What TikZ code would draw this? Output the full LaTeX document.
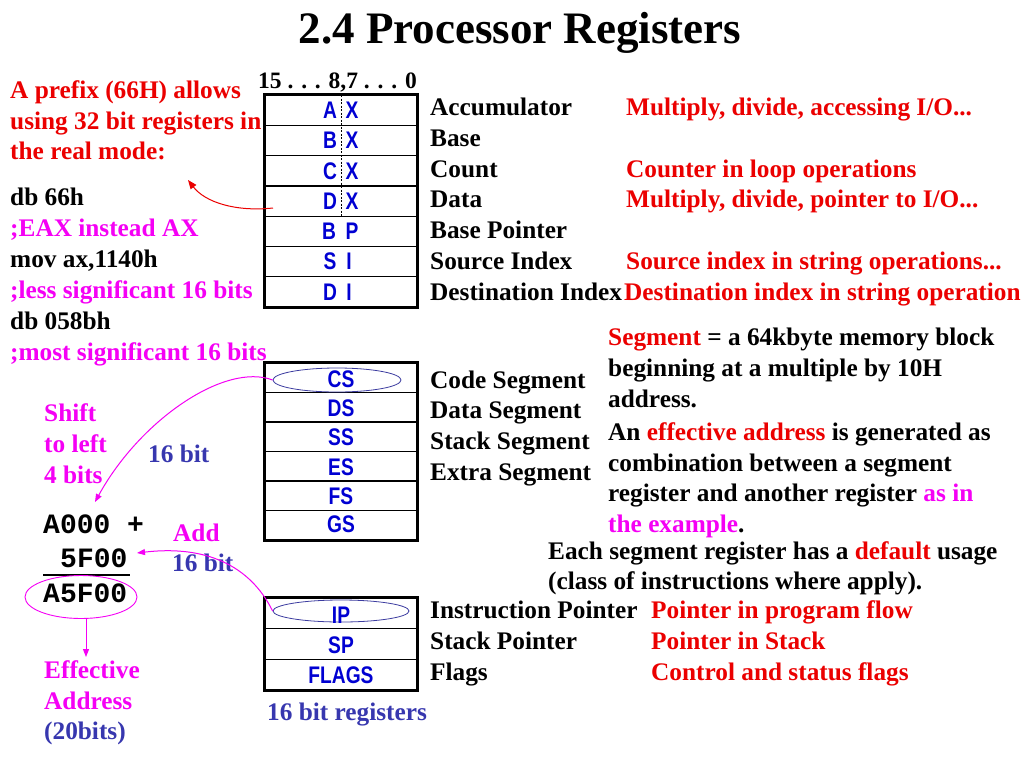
\documentclass[tikz,border=0pt]{standalone}
\usepackage{fontspec}
\setmainfont{Liberation Serif}
\newfontfamily\regfont[FakeStretch=0.8]{Liberation Sans}
\newfontfamily\codefont{Liberation Mono}
\usetikzlibrary{arrows.meta,shapes.geometric}
\definecolor{cred}{RGB}{235,0,0}
\definecolor{cmag}{RGB}{245,0,245}
\definecolor{cblue}{RGB}{0,0,210}
\definecolor{cind}{RGB}{55,55,175}
\definecolor{cell}{RGB}{60,60,160}
\begin{document}
\begin{tikzpicture}[x=1pt,y=-1pt,
 txt/.style={anchor=base west,inner sep=0pt,font=\fontsize{25.3}{30}\selectfont\bfseries},
 row/.style={draw,line width=1.3pt,minimum width=152pt,inner sep=0pt},
 reg/.style={inner sep=0pt,text=cblue,font=\regfont\bfseries\fontsize{24}{26}\selectfont},
 code/.style={anchor=base west,inner sep=0pt,font=\codefont\bfseries\fontsize{28}{30}\selectfont},
 outerbox/.style={draw,line width=3pt},
 ell/.style={ellipse,draw=cell,line width=0.8pt,inner sep=0pt},
 marrow/.style={cmag,line width=1pt,-{Triangle[width=6pt,length=8pt]}},
 rarrow/.style={cred,line width=1pt,-{Triangle[width=7pt,length=9pt]}}]
\useasboundingbox (0,0) rectangle (1024,768);
\fill[white] (0,0) rectangle (1024,768);

% title
\node[inner sep=0pt,anchor=base,font=\fontsize{45}{50}\selectfont\bfseries] (title) at (520,44) {2.4 Processor Registers};

% left text
\node[txt,text=cred] (p1) at (10,98) {A prefix (66H) allows};
\node[txt,text=cred] (p2) at (10,129) {using 32 bit registers in};
\node[txt,text=cred] (p3) at (10,159) {the real mode:};
\node[txt] (c1) at (10,205) {db 66h};
\node[txt,text=cmag] (c2) at (10,236) {;EAX instead AX};
\node[txt] (c3) at (10,267) {mov ax,1140h};
\node[txt,text=cmag] (c4) at (10,298) {;less significant 16 bits};
\node[txt] (c5) at (10,329) {db 058bh};
\node[txt,text=cmag] (c6) at (10,360) {;most significant 16 bits};

% header
\node[anchor=base west,inner sep=0pt,font=\fontsize{23.5}{26}\selectfont\bfseries] (hdr) at (258,88) {15 . . . 8,7 . . . 0};

% general registers
\node[row,minimum height=30.3pt] (r1) at (341,110.15) {};
\node[row,minimum height=30.3pt] (r2) at (341,140.45) {};
\node[row,minimum height=30.3pt] (r3) at (341,170.75) {};
\node[row,minimum height=30.3pt] (r4) at (341,201.05) {};
\node[row,minimum height=30.3pt] (r5) at (341,231.35) {};
\node[row,minimum height=30.3pt] (r6) at (341,261.65) {};
\node[row,minimum height=30.3pt] (r7) at (341,291.95) {};
\draw[outerbox] (r1.north west) rectangle (r7.south east);
\coordinate (dtop) at (341,95);
\coordinate (dbot) at (341,216);
\draw[line width=0.7pt,dash pattern=on 2pt off 1.5pt] (dtop) -- (dbot);
\node[reg] (la) at (330,110.15) {A};
\node[reg] (lax) at (352,110.15) {X};
\node[reg] (lb) at (330,140.45) {B};
\node[reg] (lbx) at (352,140.45) {X};
\node[reg] (lc) at (330,170.75) {C};
\node[reg] (lcx) at (352,170.75) {X};
\node[reg] (ld) at (330,201.05) {D};
\node[reg] (ldx) at (352,201.05) {X};
\node[reg] (lbp) at (329,231.35) {B};
\node[reg] (lbpp) at (352,231.35) {P};
\node[reg] (lsi) at (330,261.65) {S};
\node[reg] (lsii) at (349,261.65) {I};
\node[reg] (ldi) at (330,291.95) {D};
\node[reg] (ldii) at (349,291.95) {I};

% segment registers
\node[row,minimum height=29.5pt] (s1) at (341,377.75) {};
\node[row,minimum height=29.5pt] (s2) at (341,407.25) {};
\node[row,minimum height=29.5pt] (s3) at (341,436.75) {};
\node[row,minimum height=29.5pt] (s4) at (341,466.25) {};
\node[row,minimum height=29.5pt] (s5) at (341,495.75) {};
\node[row,minimum height=29.5pt] (s6) at (341,525.25) {};
\draw[outerbox] (s1.north west) rectangle (s6.south east);
\node[ell,minimum width=128pt,minimum height=24pt] (csell) at (337,380) {};
\node[reg] (lcs) at (341,379) {CS};
\node[reg] (lds) at (341,408) {DS};
\node[reg] (lss) at (341,437.5) {SS};
\node[reg] (les) at (341,467) {ES};
\node[reg] (lfs) at (341,496.5) {FS};
\node[reg] (lgs) at (341,524) {GS};

% pointer registers
\node[row,minimum height=30.67pt] (q1) at (341,613.3) {};
\node[row,minimum height=30.67pt] (q2) at (341,644) {};
\node[row,minimum height=30.67pt] (q3) at (341,674.7) {};
\draw[outerbox] (q1.north west) rectangle (q3.south east);
\node[ell,minimum width=136pt,minimum height=22pt] (ipell) at (341,611) {};
\node[reg] (lip) at (341,615) {IP};
\node[reg] (lsp) at (341,645) {SP};
\node[reg] (lfl) at (341,675.5) {FLAGS};
\node[txt,text=cind] (bits16) at (267,720) {16 bit registers};

% right column: general registers
\node[txt] (n1) at (430,115) {Accumulator};
\node[txt] (n2) at (430,146) {Base};
\node[txt] (n3) at (430,177) {Count};
\node[txt] (n4) at (430,207) {Data};
\node[txt] (n5) at (430,238) {Base Pointer};
\node[txt] (n6) at (430,269) {Source Index};
\node[txt] (n7) at (430,300) {Destination Index};
\node[txt,text=cred] (u1) at (626,115) {Multiply, divide, accessing I/O...};
\node[txt,text=cred] (u3) at (626,177) {Counter in loop operations};
\node[txt,text=cred] (u4) at (626,207) {Multiply, divide, pointer to I/O...};
\node[txt,text=cred] (u6) at (626,269) {Source index in string operations...};
\node[txt,text=cred] (u7) at (624,300) {Destination index in string operation};

% segment names
\node[txt] (g1) at (430,388) {Code Segment};
\node[txt] (g2) at (430,418) {Data Segment};
\node[txt] (g3) at (430,449) {Stack Segment};
\node[txt] (g4) at (430,480) {Extra Segment};

% paragraph
\node[txt] (t1) at (608,345) {\textcolor{cred}{Segment} = a 64kbyte memory block};
\node[txt] (t2) at (608,376) {beginning at a multiple by 10H};
\node[txt] (t3) at (608,407) {address.};
\node[txt] (t4) at (608,440) {An \textcolor{cred}{effective address} is generated as};
\node[txt] (t5) at (608,471) {combination between a segment};
\node[txt] (t6) at (608,501) {register and another register \textcolor{cmag}{as in}};
\node[txt] (t7) at (608,532) {\textcolor{cmag}{the example}.};
\node[txt] (e1) at (548,559) {Each segment register has a \textcolor{cred}{default} usage};
\node[txt] (e2) at (548,589) {(class of instructions where apply).};

% pointer names
\node[txt] (i1) at (430,618) {Instruction Pointer};
\node[txt] (i2) at (430,649) {Stack Pointer};
\node[txt] (i3) at (430,680) {Flags};
\node[txt,text=cred] (j1) at (651,618) {Pointer in program flow};
\node[txt,text=cred] (j2) at (651,649) {Pointer in Stack};
\node[txt,text=cred] (j3) at (651,680) {Control and status flags};

% example computation
\node[txt,text=cmag] (sh1) at (44,421) {Shift};
\node[txt,text=cmag] (sh2) at (44,452) {to left};
\node[txt,text=cmag] (sh3) at (44,483) {4 bits};
\node[txt,text=cind] (b16a) at (148,462) {16 bit};
\node[txt,text=cmag] (add) at (173,541) {Add};
\node[txt,text=cind] (b16b) at (172,571) {16 bit};
\node[code] (k1) at (43,533) {A000 +};
\node[code] (k2) at (60,567) {5F00};
\node[code] (k3) at (43,602) {A5F00};
\coordinate (ul) at (43,575);
\coordinate (ur) at (130,575);
\draw[line width=2pt] (ul) -- (ur);
\node[ellipse,draw=cmag,line width=0.9pt,inner sep=0pt,minimum width=112pt,minimum height=43pt] (a5ell) at (81,597) {};
\node[txt,text=cmag] (ef1) at (44,678) {Effective};
\node[txt,text=cmag] (ef2) at (44,709) {Address};
\node[txt,text=cind] (ef3) at (44,739) {(20bits)};

% connectors
\coordinate (dxs) at (273,208);
\coordinate (rtip) at (188,180);
\draw[rarrow] (dxs) .. controls (235,212) and (205,202) .. (rtip);
\coordinate (shtip) at (95,502);
\draw[marrow] (csell.west) .. controls (225,362) and (140,420) .. (shtip);
\coordinate (addtip) at (137,553);
\draw[marrow] (ipell.west) .. controls (250,565) and (205,545) .. (addtip);
\coordinate (eatip) at (86,657);
\draw[marrow] (a5ell.south -| eatip) -- (eatip);
\end{tikzpicture}
\end{document}
